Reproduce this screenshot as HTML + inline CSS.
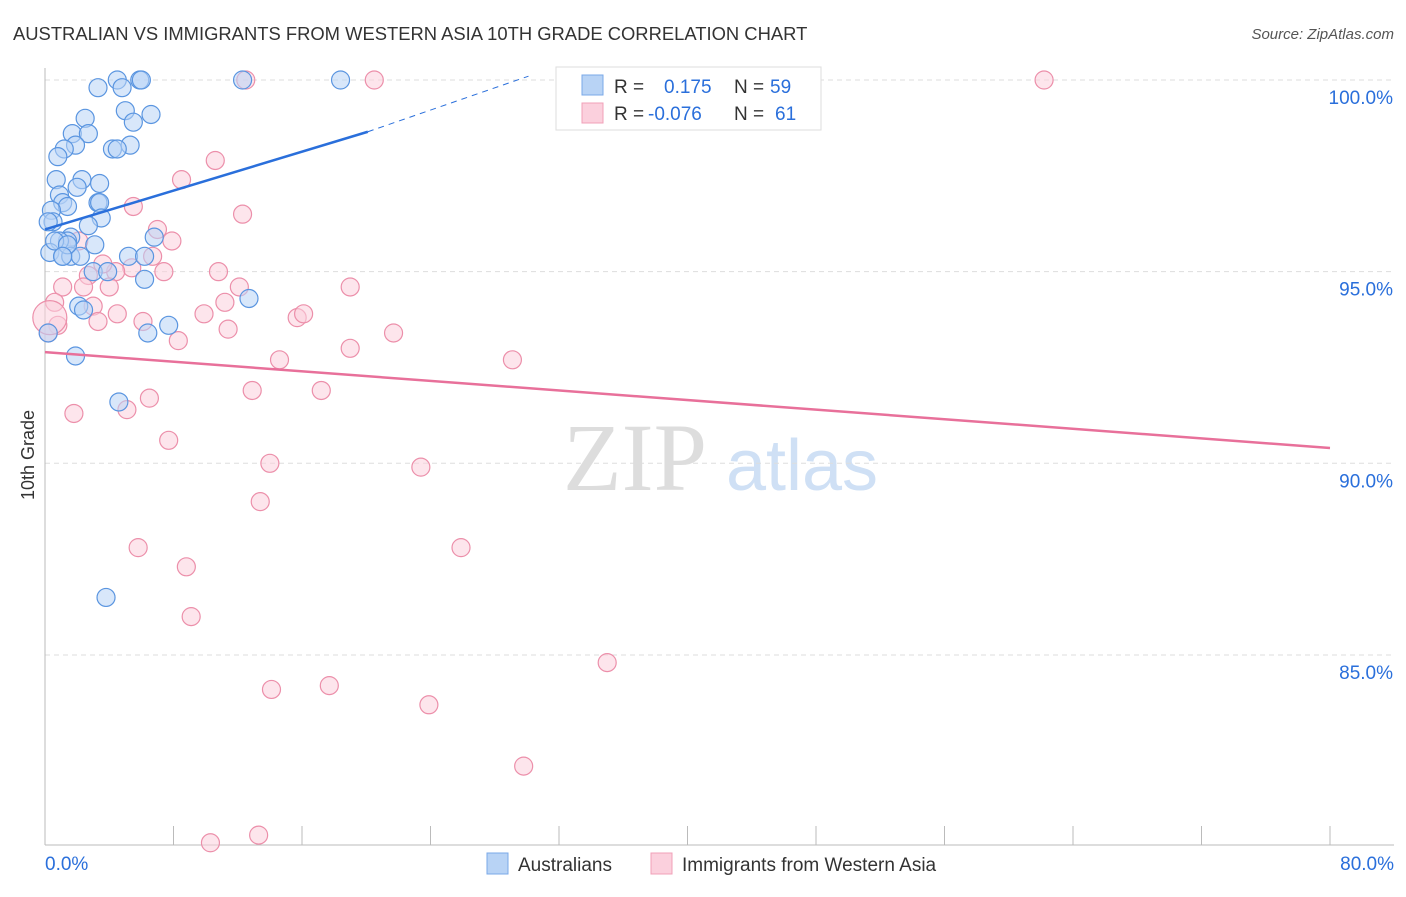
<!DOCTYPE html>
<html><head><meta charset="utf-8"><style>
body{margin:0;background:#fff;font-family:"Liberation Sans",sans-serif;}
svg text{font-family:"Liberation Sans",sans-serif;}
</style></head><body>
<svg id="c" width="1406" height="892">
<text x="13" y="40" font-size="18.4" fill="#333">AUSTRALIAN VS IMMIGRANTS FROM WESTERN ASIA 10TH GRADE CORRELATION CHART</text>
<text x="1394" y="39" font-size="15" fill="#555" text-anchor="end" font-style="italic">Source: ZipAtlas.com</text>
<text x="34" y="455" font-size="18" fill="#333" transform="rotate(-90 34 455)" text-anchor="middle">10th Grade</text>
<g><text x="635" y="490" font-size="96" fill="#ddd" text-anchor="middle" style="font-family:'Liberation Serif',serif">ZIP</text><text x="802" y="490" font-size="72" fill="#cfe0f5" text-anchor="middle">atlas</text></g>
<g id="grid"></g><g id="marks"></g>
<g>
<rect x="556" y="67" width="265" height="63" fill="#fff" stroke="#ddd"/>
<rect x="582" y="75" width="21" height="20" fill="#b8d3f5" stroke="#7aa8e8"/>
<rect x="582" y="103" width="21" height="20" fill="#fbd0dd" stroke="#f0a0b8"/>
<text x="614" y="93" font-size="19" fill="#333">R =</text><text x="664" y="93" font-size="19" fill="#2a6fdb">0.175</text>
<text x="734" y="93" font-size="19" fill="#333">N =</text><text x="770" y="93" font-size="19" fill="#2a6fdb">59</text>
<text x="614" y="120" font-size="19" fill="#333">R =</text><text x="648" y="120" font-size="19" fill="#2a6fdb">-0.076</text>
<text x="734" y="120" font-size="19" fill="#333">N =</text><text x="775" y="120" font-size="19" fill="#2a6fdb">61</text>
</g>
<g>
<rect x="487" y="853" width="21" height="21" fill="#b8d3f5" stroke="#7aa8e8"/><text x="518" y="871" font-size="19" fill="#333">Australians</text>
<rect x="651" y="853" width="21" height="21" fill="#fbd0dd" stroke="#f0a0b8"/><text x="682" y="871" font-size="19" fill="#333">Immigrants from Western Asia</text>
</g>
</svg>
<script>
const yTicks=[100,95,90,85];
const xTickLabels=["0.0%","80.0%"];
const blueX=[3.3,4.5,4.8,5.9,6.0,12.3,18.4,5.0,6.6,2.5,5.5,1.7,2.7,1.9,1.2,5.3,4.2,4.5,0.8,0.7,2.3,3.4,2.0,0.9,1.1,1.4,3.3,3.4,0.4,0.5,3.5,2.7,6.8,1.6,1.4,3.1,0.9,0.3,1.1,1.6,2.2,5.2,6.2,3.0,3.9,6.2,2.1,2.4,12.7,7.7,6.4,1.9,4.6,3.8,0.2,0.6,1.4,0.2,1.1];
const blueY=[99.8,100,99.8,100,100,100,100,99.2,99.1,99.0,98.9,98.6,98.6,98.3,98.2,98.3,98.2,98.2,98.0,97.4,97.4,97.3,97.2,97.0,96.8,96.7,96.8,96.8,96.6,96.3,96.4,96.2,95.9,95.9,95.8,95.7,95.8,95.5,95.4,95.4,95.4,95.4,95.4,95.0,95.0,94.8,94.1,94.0,94.3,93.6,93.4,92.8,91.6,86.5,93.4,95.8,95.7,96.3,95.4];
const pinkX=[12.5,20.5,42.3,62.2,10.6,8.5,5.5,12.3,7.0,7.9,2.1,6.7,5.4,4.4,7.4,10.8,3.6,2.7,1.1,2.4,4.0,19.0,12.1,0.6,3.0,11.2,4.5,9.9,3.3,6.1,15.7,16.1,0.8,11.4,21.7,8.3,0.2,19.0,14.6,29.1,12.9,17.2,6.5,1.8,5.1,7.7,14.0,23.4,13.4,5.8,25.9,8.8,9.1,35.0,14.1,17.7,23.9,29.8,10.3,13.3,0.3];
const pinkY=[100,100,100,100,97.9,97.4,96.7,96.5,96.1,95.8,95.8,95.4,95.1,95.0,95.0,95.0,95.2,94.9,94.6,94.6,94.6,94.6,94.6,94.2,94.1,94.2,93.9,93.9,93.7,93.7,93.8,93.9,93.6,93.5,93.4,93.2,93.4,93.0,92.7,92.7,91.9,91.9,91.7,91.3,91.4,90.6,90.0,89.9,89.0,87.8,87.8,87.3,86.0,84.8,84.1,84.2,83.7,82.1,80.1,80.3,93.8];
const blueTrend=[0,96.1,20.1,98.65];
const blueDash=[20.1,98.65,30.1,100.1];
const pinkTrend=[0,92.9,80,90.4];
const X=v=>45+v/80*1285, Y=v=>80+(100-v)*38.33;
const NS="http://www.w3.org/2000/svg";
const grid=document.getElementById('grid'), marks=document.getElementById('marks');
function mk(tag,attrs,parent){const e=document.createElementNS(NS,tag);for(const k in attrs)e.setAttribute(k,attrs[k]);parent.appendChild(e);return e;}
yTicks.forEach(t=>{
 const l=mk('line',{x1:45,x2:1394,y1:Y(t),y2:Y(t),stroke:'#ddd','stroke-dasharray':'5,4'},grid);
 
 
 const tx=mk('text',{x:1393,y:Y(t)+24,'font-size':19,fill:'#2a6fdb','text-anchor':'end'},grid);tx.textContent=t.toFixed(1)+'%';
 
 
});
mk('line',{x1:45,x2:45,y1:68,y2:845,stroke:'#bbb'},grid);
mk('line',{x1:45,x2:1394,y1:845,y2:845,stroke:'#bbb'},grid);
for(let i=0;i<=10;i++){const x=X(i*8);mk('line',{x1:x,x2:x,y1:826,y2:845,stroke:'#bbb'},grid);}
[[0,'start',45],[1,'end',1394]].forEach(([i,a,x])=>{const t=mk('text',{x:x,y:870,'font-size':19,fill:'#2a6fdb','text-anchor':a},grid);t.textContent=xTickLabels[i];
 
 });
function dots(xs,ys,fill,stroke,name){xs.forEach((v,i)=>{
 const r=(name==='pink-point'&&i===xs.length-1)?17:9;
 const c=mk('circle',{cx:X(v),cy:Y(ys[i]),r:r,fill:fill,'fill-opacity':0.55,stroke:stroke,'stroke-width':1.2},marks);
 
 
});}
dots(pinkX,pinkY,'#fbd0dd','#ec8faa','pink-point');
dots(blueX,blueY,'#b8d3f5','#5a95e0','blue-point');
let l;
l=mk('line',{x1:X(blueTrend[0]),y1:Y(blueTrend[1]),x2:X(blueTrend[2]),y2:Y(blueTrend[3]),stroke:'#2a6fdb','stroke-width':2.5},marks);


l=mk('line',{x1:X(blueDash[0]),y1:Y(blueDash[1]),x2:X(blueDash[2]),y2:Y(blueDash[3]),stroke:'#2a6fdb','stroke-width':1,'stroke-dasharray':'6,5'},marks);


l=mk('line',{x1:X(pinkTrend[0]),y1:Y(pinkTrend[1]),x2:X(pinkTrend[2]),y2:Y(pinkTrend[3]),stroke:'#e8709a','stroke-width':2.5},marks);


</script>
</body></html>
